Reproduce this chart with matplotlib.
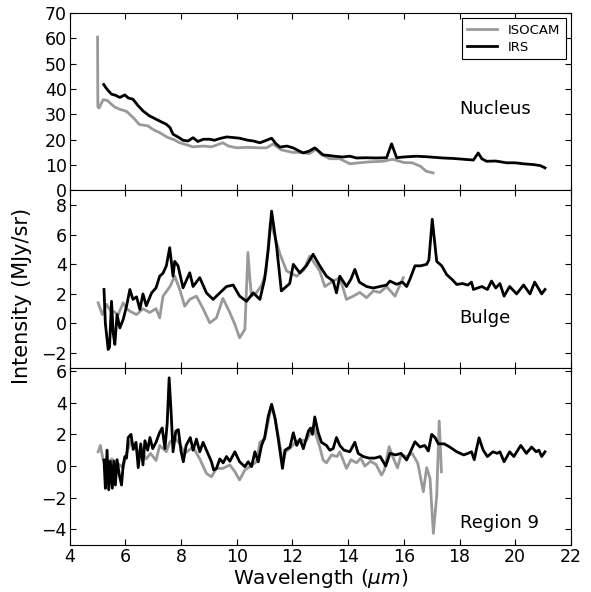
import numpy as np
import matplotlib
matplotlib.use("Agg")
import matplotlib.pyplot as plt

# (wavelength um, intensity MJy/sr)
nuc_isocam = [
    (5.0, 60.5), (5.01, 33), (5.05, 32.5), (5.2, 35.8), (5.35, 35.5), (5.6, 33),
    (5.8, 32), (6.04, 31.2), (6.3, 28.5), (6.5, 26), (6.8, 25.5), (7.0, 24),
    (7.23, 22.8), (7.5, 21), (7.75, 20), (7.95, 18.8), (8.2, 18), (8.42, 17.2),
    (8.8, 17.5), (9.1, 17.2), (9.5, 18.8), (9.7, 17.5), (10.0, 16.8), (10.4, 17),
    (10.8, 16.8), (11.07, 16.8), (11.3, 18.3), (11.6, 16), (12.0, 15), (12.3, 15),
    (12.6, 14.5), (12.86, 16.3), (13.0, 14.5), (13.34, 12.5), (13.7, 12.5),
    (14.06, 10.5), (14.4, 10.9), (14.8, 11.3), (15.25, 11.5), (15.6, 12.3),
    (16.0, 11), (16.3, 10.9), (16.6, 9.5), (16.8, 7.6), (17.05, 6.9),
]
nuc_irs = [
    (5.22, 41.8), (5.3, 40.5), (5.38, 39.4), (5.5, 38), (5.65, 37.5), (5.8, 36.7),
    (5.98, 37.7), (6.1, 36.5), (6.27, 36), (6.45, 33.5), (6.63, 31.4), (6.85, 29.5),
    (7.1, 28.1), (7.3, 27), (7.47, 26.1), (7.6, 24.8), (7.71, 22.2), (7.9, 21),
    (8.07, 19.8), (8.25, 19.5), (8.43, 20.8), (8.6, 19.3), (8.8, 20.2), (9.03, 20.2),
    (9.2, 19.8), (9.4, 20.5), (9.63, 21.1), (9.85, 20.9), (10.1, 20.6), (10.4, 19.8),
    (10.6, 19.5), (10.83, 18.8), (11.0, 19.5), (11.25, 20.6), (11.4, 18.5),
    (11.55, 17.1), (11.8, 17.5), (12.02, 16.8), (12.2, 15.8), (12.38, 14.8),
    (12.6, 15.5), (12.8, 16.8), (13.1, 14), (13.22, 13.9), (13.5, 13.5), (13.8, 13.2),
    (14.06, 13.5), (14.3, 12.8), (14.66, 12.9), (15.0, 12.8), (15.38, 12.9),
    (15.56, 18.4), (15.74, 12.9), (16.0, 13.2), (16.46, 13.5), (16.8, 13.3),
    (17.05, 13.1), (17.4, 12.8), (17.8, 12.6), (18.25, 12.2), (18.5, 12),
    (18.67, 14.8), (18.8, 12.5), (18.97, 11.5), (19.3, 11.6), (19.69, 10.9),
    (20.0, 10.9), (20.3, 10.5), (20.65, 10.2), (20.9, 9.8), (21.07, 8.9),
]

bulge_isocam = [
    (5.02, 1.4), (5.17, 0.6), (5.32, 1.3), (5.45, 0.9), (5.56, 0.83), (5.74, 0.6),
    (5.92, 1.4), (6.05, 1.0), (6.16, 0.83), (6.4, 0.6), (6.63, 1.0), (6.87, 0.74),
    (7.1, 1.0), (7.23, 0.38), (7.35, 1.85), (7.6, 2.5), (7.77, 3.2), (7.95, 2.3),
    (8.13, 1.17), (8.31, 1.63), (8.55, 1.85), (8.79, 1.0), (9.03, 0.04), (9.27, 0.38),
    (9.5, 1.7), (9.75, 0.74), (9.93, -0.06), (10.1, -0.97), (10.29, -0.4),
    (10.4, 4.8), (10.47, 3.0), (10.53, 1.85), (10.71, 2.1), (10.9, 2.6),
    (11.05, 3.5), (11.2, 6.8), (11.35, 6.0), (11.55, 4.7), (11.79, 3.55),
    (12.15, 3.2), (12.4, 3.6), (12.62, 4.56), (12.98, 3.55), (13.16, 2.5),
    (13.46, 2.87), (13.7, 3.1), (13.94, 1.63), (14.18, 1.85), (14.42, 2.1),
    (14.66, 1.74), (14.9, 2.2), (15.14, 2.1), (15.38, 2.5), (15.68, 1.85), (15.98, 3.1),
]
bulge_irs = [
    (5.23, 2.3), (5.28, 0.0), (5.38, -1.76), (5.43, -1.6), (5.5, 1.5), (5.56, -0.64),
    (5.62, -1.42), (5.7, 0.6), (5.8, -0.3), (5.92, 0.27), (6.04, 1.17), (6.16, 2.3),
    (6.27, 1.63), (6.4, 1.8), (6.52, 0.95), (6.63, 2.0), (6.75, 1.2), (6.94, 2.07),
    (7.1, 2.41), (7.23, 3.2), (7.35, 3.4), (7.47, 3.9), (7.59, 5.13), (7.71, 3.2),
    (7.77, 4.2), (7.89, 3.9), (8.07, 2.41), (8.31, 3.43), (8.43, 2.5), (8.67, 3.1),
    (8.91, 2.07), (9.15, 1.63), (9.39, 2.07), (9.63, 2.5), (9.87, 2.6), (10.1, 1.85),
    (10.35, 1.5), (10.59, 2.07), (10.83, 1.63), (11.0, 3.0), (11.13, 5.0),
    (11.25, 7.6), (11.43, 5.2), (11.6, 2.2), (11.9, 2.7), (12.03, 4.0), (12.26, 3.43),
    (12.5, 3.9), (12.74, 4.68), (12.98, 3.9), (13.22, 3.2), (13.46, 2.87),
    (13.58, 2.07), (13.7, 3.2), (13.94, 2.5), (14.1, 3.0), (14.24, 3.66), (14.4, 2.8),
    (14.66, 2.5), (14.9, 2.4), (15.14, 2.5), (15.38, 2.6), (15.5, 2.87), (15.74, 2.65),
    (15.95, 2.8), (16.1, 2.5), (16.22, 3.0), (16.4, 3.9), (16.6, 3.9), (16.82, 4.0),
    (16.9, 4.3), (17.02, 7.05), (17.18, 4.2), (17.36, 3.9), (17.54, 3.3), (17.72, 3.0),
    (17.9, 2.64), (18.1, 2.7), (18.3, 2.6), (18.43, 2.8), (18.5, 2.3), (18.8, 2.5),
    (19.0, 2.3), (19.15, 2.87), (19.3, 2.4), (19.45, 2.7), (19.6, 1.85), (19.8, 2.5),
    (20.05, 2.0), (20.3, 2.6), (20.53, 2.0), (20.7, 2.8), (20.95, 2.0), (21.07, 2.3),
]

reg9_isocam = [
    (5.02, 0.9), (5.1, 1.3), (5.2, 0.38), (5.32, -0.04), (5.5, 0.45), (5.7, 0.2),
    (5.92, -0.1), (6.04, 0.8), (6.2, 1.6), (6.4, 1.0), (6.6, 0.9), (6.75, 0.45),
    (6.9, 0.8), (7.1, 0.35), (7.23, 1.3), (7.47, 0.9), (7.59, 1.5), (7.77, 1.8),
    (7.95, 1.4), (8.13, 0.8), (8.43, 1.2), (8.67, 0.45), (8.91, -0.47), (9.09, -0.68),
    (9.27, -0.15), (9.5, -0.15), (9.75, 0.07), (9.93, -0.35), (10.1, -0.88),
    (10.29, -0.25), (10.5, 0.0), (10.71, 0.27), (10.83, 1.5), (11.0, 1.7),
    (11.25, 3.85), (11.4, 2.8), (11.55, 1.3), (11.65, 0.1), (11.75, 0.9),
    (11.9, 1.1), (12.1, 1.5), (12.26, 1.64), (12.5, 1.6), (12.75, 2.5), (12.98, 1.2),
    (13.1, 0.38), (13.22, 0.2), (13.4, 0.7), (13.6, 0.6), (13.7, 0.9), (13.94, -0.15),
    (14.1, 0.4), (14.3, 0.2), (14.45, 0.5), (14.6, 0.0), (14.8, 0.3), (15.0, 0.1),
    (15.2, -0.57), (15.3, -0.25), (15.47, 1.22), (15.6, 0.6), (15.77, -0.12),
    (15.9, 0.7), (16.1, 0.6), (16.3, 0.8), (16.5, 0.18), (16.7, -1.62), (16.82, -0.1),
    (16.94, -0.78), (17.06, -4.25), (17.18, -1.9), (17.27, 2.84), (17.35, -0.36),
]
reg9_irs = [
    (5.23, 0.38), (5.28, -1.41), (5.34, 1.0), (5.4, -1.5), (5.46, 0.3), (5.53, -1.4),
    (5.58, 0.3), (5.64, -1.2), (5.7, 0.4), (5.78, -0.55), (5.86, -1.2), (5.92, 0.07),
    (5.98, 0.6), (6.04, 0.5), (6.1, 1.8), (6.2, 2.0), (6.28, 1.05), (6.38, 1.5),
    (6.46, -0.1), (6.55, 1.4), (6.63, 0.07), (6.7, 1.6), (6.8, 1.0), (6.88, 1.8),
    (6.98, 1.1), (7.1, 1.5), (7.23, 2.13), (7.32, 2.4), (7.42, 1.1), (7.5, 2.7),
    (7.57, 5.57), (7.64, 3.43), (7.71, 0.9), (7.81, 2.2), (7.9, 2.3), (8.0, 0.9),
    (8.08, 0.27), (8.18, 1.3), (8.33, 1.8), (8.43, 1.0), (8.55, 1.7), (8.67, 0.9),
    (8.79, 1.5), (8.91, 1.0), (9.09, 0.27), (9.17, -0.25), (9.27, -0.15), (9.39, 0.45),
    (9.51, 0.2), (9.63, 0.6), (9.75, 0.3), (9.93, 0.9), (10.1, 0.27), (10.29, -0.04),
    (10.41, 0.27), (10.53, -0.04), (10.65, 0.9), (10.77, 0.27), (10.89, 1.3),
    (11.0, 1.8), (11.13, 3.15), (11.25, 3.9), (11.37, 3.05), (11.49, 1.7),
    (11.64, -0.15), (11.73, 1.0), (11.91, 1.2), (12.03, 2.1), (12.15, 1.3),
    (12.27, 1.7), (12.39, 1.1), (12.57, 2.2), (12.65, 2.4), (12.72, 2.0), (12.8, 3.1),
    (12.92, 2.13), (13.04, 1.5), (13.22, 1.3), (13.34, 1.0), (13.46, 1.1),
    (13.58, 1.8), (13.7, 1.3), (13.85, 1.0), (14.06, 0.9), (14.24, 1.5), (14.36, 0.8),
    (14.54, 0.6), (14.75, 0.5), (14.95, 0.5), (15.15, 0.6), (15.35, 0.0), (15.5, 0.8),
    (15.7, 0.7), (15.9, 0.8), (16.1, 0.38), (16.4, 1.53), (16.58, 1.2), (16.75, 1.3),
    (16.88, 0.95), (17.0, 2.0), (17.12, 1.8), (17.24, 1.4), (17.45, 1.4), (17.65, 1.2),
    (17.9, 0.9), (18.15, 0.7), (18.3, 0.8), (18.43, 0.9), (18.53, 0.4), (18.6, 1.0),
    (18.7, 1.78), (18.85, 1.0), (19.0, 0.6), (19.2, 0.9), (19.35, 0.8), (19.45, 0.9),
    (19.6, 0.27), (19.8, 0.9), (19.95, 0.6), (20.2, 1.3), (20.4, 0.8), (20.59, 1.2),
    (20.75, 0.9), (20.85, 1.0), (20.95, 0.6), (21.07, 0.9),
]

panels = [
    ("Nucleus", nuc_isocam, nuc_irs, (0, 70), np.arange(0, 71, 10), 32),
    ("Bulge", bulge_isocam, bulge_irs, (-3, 9), np.arange(-2, 9, 2), 0.4),
    ("Region 9", reg9_isocam, reg9_irs, (-5, 6.2), np.arange(-4, 7, 2), -3.62),
]

fig, axes = plt.subplots(3, 1, sharex=True, figsize=(5.91, 5.92), dpi=100)
fig.subplots_adjust(left=0.118, right=0.966, top=0.978, bottom=0.079, hspace=0)

for ax, (name, iso, irs, ylim, yticks, label_y) in zip(axes, panels):
    iso = np.array(iso).T
    irs = np.array(irs).T
    ax.plot(iso[0], iso[1], color="0.6", lw=2, label="ISOCAM")
    ax.plot(irs[0], irs[1], color="black", lw=2, label="IRS")
    ax.set_ylim(*ylim)
    ax.set_yticks(yticks)
    ax.set_xlim(4, 22)
    ax.set_xticks(np.arange(4, 23, 2))
    ax.tick_params(direction="in", top=True, right=True, length=4,
                   labelsize=12.5, pad=2)
    ax.text(18.0, label_y, name, fontsize=13, ha="left", va="center")

axes[0].legend(loc="upper right", fontsize=9.5, fancybox=False,
               edgecolor="black", framealpha=1, handlelength=2.3,
               borderpad=0.4, labelspacing=0.3, borderaxespad=0.4)
axes[0].get_legend().get_frame().set_linewidth(0.8)

axes[2].set_xlabel(r"Wavelength ($\mu m$)", fontsize=14.5, labelpad=1)
fig.text(0.038, 0.5, "Intensity (MJy/sr)", rotation=90, fontsize=15,
         ha="center", va="center")

fig.savefig("out.png", dpi=100)
